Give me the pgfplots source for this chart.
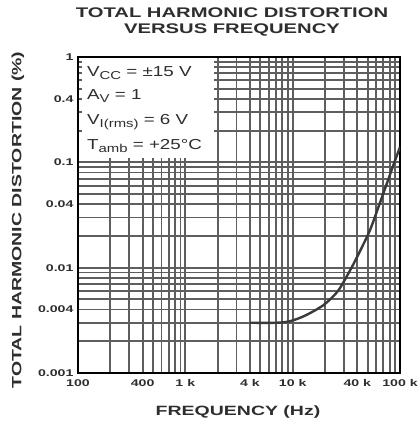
\documentclass[border=0pt]{standalone}
\usepackage{fontspec}
\setmainfont{Liberation Sans}[FakeStretch=1.3]
\newfontfamily\widefont{Liberation Sans}[FakeStretch=1.45]
\usepackage{pgfplots}
\pgfplotsset{compat=1.18}
\definecolor{gridc}{HTML}{5E5E5E}
\definecolor{txt}{HTML}{2E2E2E}
\definecolor{curve}{HTML}{3A3A3A}
\newcommand{\sub}[1]{\raisebox{-0.3ex}{\fontsize{11.5}{12}\selectfont #1}}
\begin{document}
\begin{tikzpicture}
\useasboundingbox (-78bp,-50bp) rectangle (342bp,373bp);
\begin{axis}[
  scale only axis, width=322bp, height=316bp,
  xmode=log, ymode=log,
  xmin=100, xmax=100000, ymin=0.001, ymax=1,
  xtick={100,1000,10000,100000},
  xticklabels={100,1 k,10 k,100 k},
  extra x ticks={400,4000,40000},
  extra x tick labels={400,4 k,40 k},
  extra x tick style={grid=none},
  ytick={0.001,0.01,0.1,1},
  yticklabels={0.001,0.01,0.1,1},
  extra y ticks={0.004,0.04,0.4},
  extra y tick labels={0.004,0.04,0.4},
  extra y tick style={grid=none},
  grid=both,
  major grid style={gridc, line width=1.8bp},
  minor grid style={gridc, line width=1.8bp},
  major tick length=0pt, minor tick length=0pt,
  axis line style={black, line width=1.6bp},
  ticklabel style={font=\widefont\fontsize{9.8}{10}\selectfont\bfseries, text=txt},
  xticklabel style={yshift=-3bp},
  yticklabel style={xshift=-1bp},
]
\fill[white] ([xshift=4bp,yshift=4bp]axis cs:100,0.1) rectangle ([xshift=-4bp,yshift=-1bp]axis cs:2000,1);
\addplot[smooth, line width=2.4bp, color=curve] coordinates {
(4000,0.0030) (7000,0.0030) (9400,0.0031) (13000,0.0035) (19300,0.0044)
(25700,0.0058) (30000,0.0074) (36800,0.0108) (44000,0.0155) (52600,0.0228)
(62000,0.036) (75000,0.062) (87000,0.095) (100000,0.14)
};
\end{axis}
\node[align=center, text=txt, font=\widefont\fontsize{14}{16}\selectfont\bfseries] at (154bp,351bp) {TOTAL HARMONIC DISTORTION\\VERSUS FREQUENCY};
\node[text=txt, font=\widefont\fontsize{13.5}{16}\selectfont\bfseries] at (160bp,-39bp) {FREQUENCY (Hz)};
\node[rotate=90, text=txt, font=\widefont\fontsize{13.5}{16}\selectfont\bfseries] at (-60bp,153bp) {TOTAL HARMONIC DISTORTION (\%)};
\begin{scope}[every node/.style={anchor=base west, text=txt, font=\fontsize{14.5}{16}\selectfont, inner sep=0pt}]
\node at (9bp,296bp) {V\sub{CC} = ±15 V};
\node at (9bp,273bp) {A\sub{V} = 1};
\node at (9bp,248bp) {V\sub{I(rms)} = 6 V};
\node at (9bp,223bp) {T\sub{amb} = +25°C};
\end{scope}
\end{tikzpicture}
\end{document}
